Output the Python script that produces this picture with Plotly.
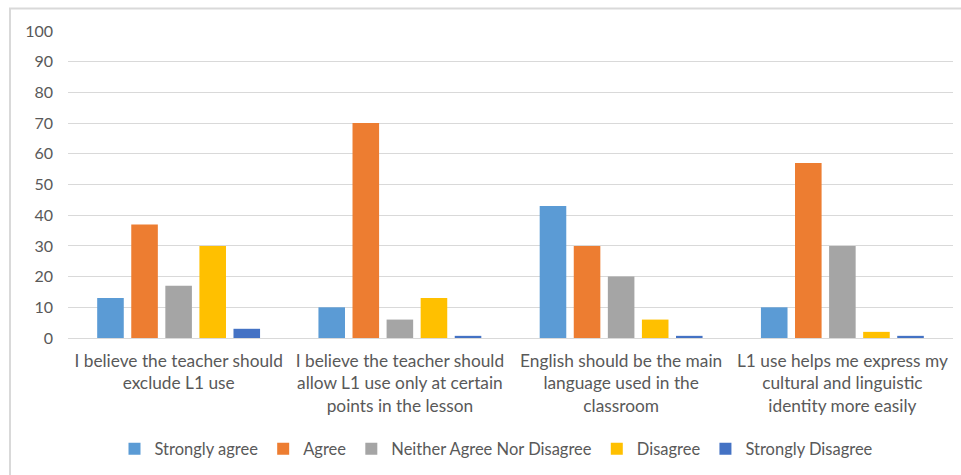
import plotly.graph_objects as go

categories = [
    "I believe the teacher should<br>exclude L1 use",
    "I believe the teacher should<br>allow L1 use only at certain<br>points in the lesson",
    "English should be the main<br>language used in the<br>classroom",
    "L1 use helps me express my<br>cultural and linguistic<br>identity more easily",
]
series_names = ["Strongly agree", "Agree", "Neither Agree Nor Disagree", "Disagree", "Strongly Disagree"]
strongly_agree = [13, 10, 43, 10]
agree = [37, 70, 30, 57]
neither = [17, 6, 20, 30]
disagree = [30, 13, 6, 2]
strongly_disagree = [3, 0.7, 0.7, 0.7]
colors = ["#5B9BD5", "#ED7D31", "#A5A5A5", "#FFC000", "#4472C4"]
y_ticks = [0, 10, 20, 30, 40, 50, 60, 70, 80, 90, 100]

values = [strongly_agree, agree, neither, disagree, strongly_disagree]

fig = go.Figure()
for name, vals, c in zip(series_names, values, colors):
    fig.add_trace(go.Bar(x=categories, y=vals, name=name, marker=dict(color=c, line=dict(width=0))))

W, H = 961, 475
l, r, t, b = 68, 8, 31, 137
pw, ph = W - l - r, H - t - b

def px(xp):
    return (xp - l) / pw

def py(yp):
    return (H - b - yp) / ph

fig.update_layout(
    width=W, height=H,
    margin=dict(l=l, r=r, t=t, b=b),
    paper_bgcolor="white", plot_bgcolor="white",
    font=dict(family="Lato, Liberation Sans, sans-serif", size=17, color="#595959"),
    barmode="group", bargap=0.23, bargroupgap=0.22,
    showlegend=True,
    legend=dict(orientation="h", x=px(496.5), xanchor="center", y=py(449), yanchor="middle",
                font=dict(size=16.5, color="#595959"), itemwidth=30, traceorder="normal"),
    xaxis=dict(showgrid=False, showline=True, linecolor="#d9d9d9", linewidth=1, ticks="",
               tickfont=dict(size=17.3, color="#595959"), tickangle=0, ticklabelstandoff=7),
    yaxis=dict(range=[0, 100], tickvals=y_ticks, showgrid=True, gridcolor="#d9d9d9", gridwidth=1,
               zeroline=False, showline=False, ticks="", ticklabelstandoff=14,
               tickfont=dict(size=16, color="#595959")),
    shapes=[dict(type="rect", xref="paper", yref="paper",
                 x0=px(10), x1=px(963), y0=py(478), y1=py(8.5),
                 line=dict(color="#d9d9d9", width=2), fillcolor="rgba(0,0,0,0)", layer="below")],
)

fig.write_html("out.html")
